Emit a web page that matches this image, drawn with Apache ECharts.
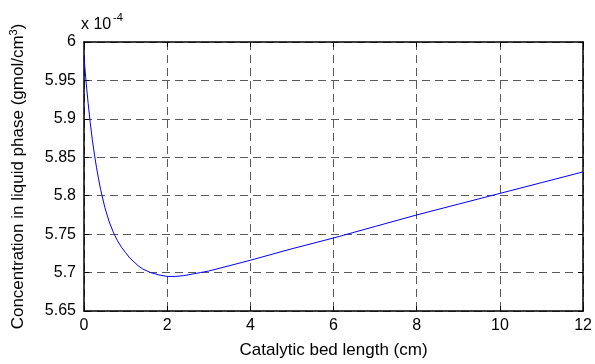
<!DOCTYPE html>
<html>
<head>
<meta charset="utf-8">
<script src="https://cdn.jsdelivr.net/npm/echarts@6/dist/echarts.min.js"></script>
<style>
  html, body { margin: 0; padding: 0; background: #fff; }
  #chart { width: 595px; height: 364px; }
</style>
</head>
<body>
<div id="chart"></div>
<script>
// bed length (cm)
const bedLength = [0, 0.05, 0.1, 0.15, 0.2, 0.25, 0.3, 0.35, 0.4, 0.5, 0.6, 0.7, 0.8, 0.9, 1.0, 1.1, 1.2, 1.3, 1.4, 1.6, 1.8,
  2.0, 2.2, 2.4, 2.6, 2.8, 3.0, 3.5, 4, 5, 6, 7, 8, 9, 10, 11, 12];
// concentration, x 10^-4 gmol/cm3
const concentration = [5.980, 5.948, 5.920, 5.895, 5.873, 5.854, 5.837, 5.822, 5.808, 5.785, 5.767, 5.753, 5.742, 5.733, 5.726,
  5.719, 5.714, 5.709, 5.705, 5.700, 5.697, 5.695, 5.695, 5.696, 5.698, 5.700, 5.702, 5.709, 5.716,
  5.731, 5.745, 5.760, 5.775, 5.789, 5.803, 5.817, 5.831];

const xTicks = [0, 2, 4, 6, 8, 10, 12];
const yTicks = [5.65, 5.7, 5.75, 5.8, 5.85, 5.9, 5.95, 6];

const font = 'Liberation Sans, Arial, sans-serif';

let points = [];
for (let i = 0; i < bedLength.length; i++) {
  points.push([bedLength[i], concentration[i]]);
}

const chart = echarts.init(document.getElementById('chart'), null, { renderer: 'canvas' });

const gridLine = {
  show: true,
  lineStyle: { color: '#5a5a5a', width: 1, type: [8, 5] }
};

chart.setOption({
  backgroundColor: '#fff',
  animation: false,
  grid: { left: 81, right: 11, top: 42, bottom: 50 },
  xAxis: [
    {
      type: 'value',
      min: xTicks[0],
      max: xTicks[xTicks.length - 1],
      interval: 2,
      name: 'Catalytic bed length (cm)',
      nameLocation: 'middle',
      nameGap: 31,
      nameTextStyle: { fontFamily: font, fontSize: 17, color: '#000' },
      axisLine: { show: true, onZero: false, lineStyle: { color: '#000', width: 1.5 } },
      axisTick: { show: true, inside: true, length: 5, lineStyle: { color: '#000' } },
      axisLabel: { fontFamily: font, fontSize: 16, color: '#000', margin: 7 },
      splitLine: gridLine
    },
    {
      type: 'value',
      position: 'top',
      min: xTicks[0],
      max: xTicks[xTicks.length - 1],
      interval: 2,
      axisLine: { show: true, onZero: false, lineStyle: { color: '#000', width: 1.5 } },
      axisTick: { show: true, inside: true, length: 5, lineStyle: { color: '#000' } },
      axisLabel: { show: false },
      splitLine: { show: false }
    }
  ],
  yAxis: [
    {
      type: 'value',
      min: yTicks[0],
      max: yTicks[yTicks.length - 1],
      interval: 0.05,
      name: '{a|Concentration in liquid phase (gmol/cm}{s|3}{a|)}',
      nameLocation: 'middle',
      nameGap: 56,
      nameTextStyle: {
        rich: {
          a: { fontFamily: font, fontSize: 17, color: '#000', lineHeight: 20 },
          s: { fontFamily: font, fontSize: 11, color: '#000', lineHeight: 20, verticalAlign: 'top' }
        }
      },
      axisLine: { show: true, onZero: false, lineStyle: { color: '#000', width: 1.5 } },
      axisTick: { show: true, inside: true, length: 5, lineStyle: { color: '#000' } },
      axisLabel: { fontFamily: font, fontSize: 16, color: '#000', margin: 8 },
      splitLine: gridLine
    },
    {
      type: 'value',
      position: 'right',
      min: yTicks[0],
      max: yTicks[yTicks.length - 1],
      interval: 0.05,
      axisLine: { show: true, onZero: false, lineStyle: { color: '#000', width: 1.5 } },
      axisTick: { show: true, inside: true, length: 5, lineStyle: { color: '#000' } },
      axisLabel: { show: false },
      splitLine: { show: false }
    }
  ],
  graphic: [
    {
      type: 'text',
      left: 81,
      top: 17,
      style: { text: 'x 10', font: '16px ' + font, fill: '#000' }
    },
    {
      type: 'text',
      left: 113,
      top: 12,
      style: { text: '-4', font: '11px ' + font, fill: '#000' }
    }
  ],
  series: [
    {
      type: 'line',
      data: points,
      showSymbol: false,
      smooth: false,
      lineStyle: { color: '#0000ff', width: 1 },
      z: 5
    }
  ]
});
</script>
</body>
</html>
